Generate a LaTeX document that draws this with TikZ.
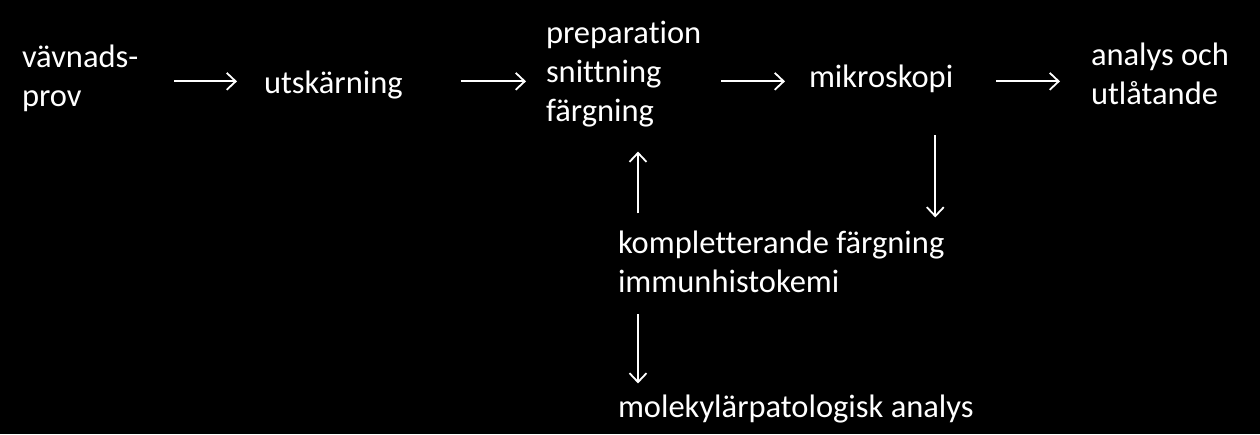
\documentclass[tikz,border=0pt]{standalone}
\usepackage{fontspec}
\setmainfont{Carlito}[Ligatures=NoCommon,Contextuals=NoAlternate]
\usetikzlibrary{arrows.meta,calc}

\begin{document}
\begin{tikzpicture}[x=1pt,y=-1pt,
  lbl/.style={text=white,inner sep=0pt,outer sep=0pt,anchor=base west,align=left,
    font=\fontsize{32.5}{39}\selectfont},
  arr/.style={-{Straight Barb[length=9pt,width=17pt,line width=1.8pt]},line width=1.8pt,white}]
\fill[black] (0,0) rectangle (1260,434);
\useasboundingbox (0,0) rectangle (1260,434);
% multi-line labels sit on their last line
\node[lbl] (prov)   at (22,106)  {vävnads-\\prov};
\node[lbl] (cut)    at (264,93)  {utskärning};
\node[lbl] (prep)   at (546,121) {preparation\\snittning\\färgning};
\node[lbl] (mic)    at (809,87)  {mikroskopi};
\node[lbl] (report) at (1091,104) {analys och\\utlåtande};
\node[lbl] (extra)  at (618,292) {kompletterande färgning\\immunhistokemi};
\node[lbl] (mol)    at (618,417) {molekylärpatologisk analys};
% main flow
\draw[arr] ($(prov.east |- mic.west)+(36,3)$) -- ($(cut.west |- mic.west)+(-27,3)$);
\draw[arr] ($(cut.east |- mic.west)+(58,3)$) -- ($(prep.west |- mic.west)+(-20,3)$);
\draw[arr] ($(prep.east |- mic.west)+(20,3)$) -- ($(mic.west)+(-24,3)$);
\draw[arr] ($(mic.east)+(43,3)$) -- ($(report.west |- mic.west)+(-31,3)$);
% side branches
\draw[arr] ($(extra.north west)+(20,-17)$) -- ($(prep.south west)+(92,25)$);
\draw[arr] ($(mic.south -| extra.north east)+(-9,43)$) -- ($(extra.north east)+(-9,-13)$);
\draw[arr] ($(extra.south west)+(20,22)$) -- ($(mol.north west)+(20,-11)$);
\end{tikzpicture}
\end{document}
